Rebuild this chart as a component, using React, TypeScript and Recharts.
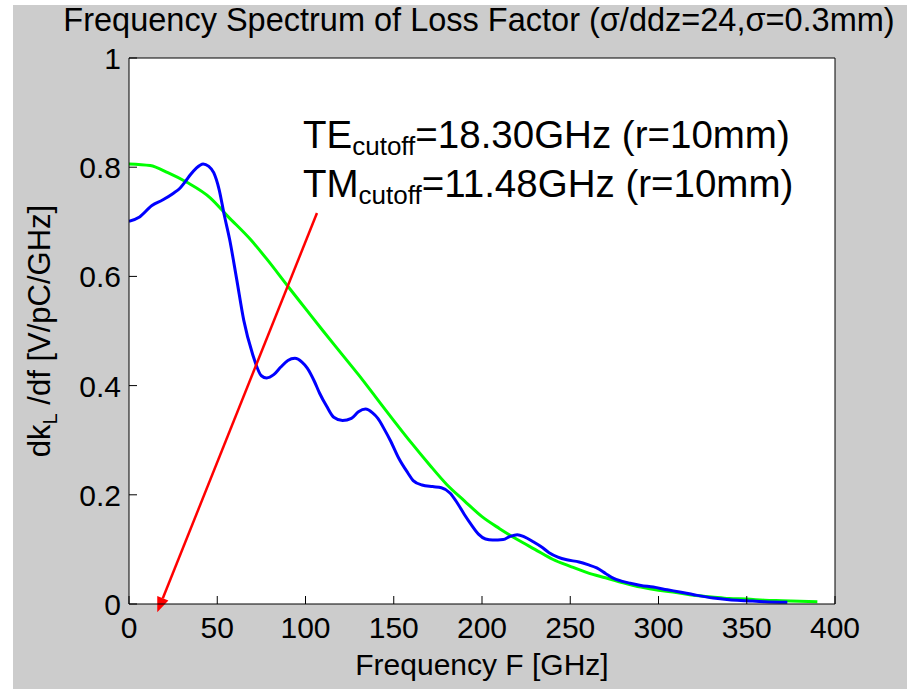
import { CartesianGrid, Line, LineChart, ReferenceLine, XAxis, YAxis } from 'recharts'

// blue: computed loss factor spectrum, green: gaussian bunch reference
const blueFreq = [
  0, 6, 13, 19, 25, 29, 32, 35, 38, 42, 45, 48, 51, 54, 57, 61, 65, 70, 75, 78, 82, 86, 90, 94, 98, 101, 105,
  108, 112, 116, 121, 126, 130, 134, 138, 141, 145, 148, 153, 158, 161, 166, 172, 177, 182, 186, 190, 194, 198,
  202, 206, 212, 216, 220, 224, 229, 234, 238, 243, 248, 255, 260, 265, 270, 274, 279, 284, 290, 297, 305, 312,
  320, 331, 340, 350, 360, 373,
]
const blueLoss = [
  0.701, 0.709, 0.73, 0.74, 0.752, 0.762, 0.774, 0.787, 0.798, 0.806, 0.802, 0.79, 0.76, 0.712, 0.668, 0.595, 0.52,
  0.458, 0.418, 0.414, 0.42, 0.434, 0.446, 0.45, 0.443, 0.432, 0.408, 0.386, 0.362, 0.342, 0.336, 0.34, 0.352, 0.357,
  0.35, 0.34, 0.318, 0.3, 0.266, 0.24, 0.226, 0.218, 0.215, 0.213, 0.203, 0.185, 0.164, 0.145, 0.128, 0.119, 0.117,
  0.118, 0.124, 0.127, 0.123, 0.114, 0.104, 0.094, 0.086, 0.081, 0.077, 0.072, 0.066, 0.056, 0.048, 0.042, 0.038,
  0.034, 0.031, 0.026, 0.022, 0.017, 0.011, 0.008, 0.006, 0.004, 0.003,
]
const greenFreq = [
  0, 12, 22, 33, 46, 56, 69, 78, 90, 100, 110, 120, 130, 140, 150, 160, 170, 180, 190, 200, 210, 220, 230, 240,
  250, 260, 270, 280, 290, 300, 310, 320, 330, 340, 350, 360, 370, 380, 390,
]
const greenLoss = [
  0.806, 0.803, 0.79, 0.772, 0.744, 0.71, 0.667, 0.632, 0.582, 0.541, 0.5, 0.46, 0.42, 0.378, 0.336, 0.295,
  0.256, 0.219, 0.189, 0.16, 0.138, 0.118, 0.1, 0.082, 0.069, 0.057, 0.048, 0.039, 0.031, 0.025, 0.021, 0.016,
  0.013, 0.01, 0.009, 0.007, 0.006, 0.005, 0.004,
]

const xTicks = [0, 50, 100, 150, 200, 250, 300, 350, 400]
const yTicks = [0, 0.2, 0.4, 0.6, 0.8, 1]

// red arrow: from the annotation down to the cutoff frequency
const arrowFrom = { x: 106.5, y: 0.716 }
const arrowTo = { x: 16, y: -0.015 }

const blueData = blueFreq.map((f, i) => ({ f, v: blueLoss[i] }))
const greenData = greenFreq.map((f, i) => ({ f, v: greenLoss[i] }))

const FONT = '"Liberation Sans", Arial, sans-serif'
const TICK = 8

function BottomTick({ x, y, payload }: any) {
  return (
    <g>
      <line x1={x} y1={y} x2={x} y2={y - TICK} stroke="#000" />
      <text x={x} y={y + 34} textAnchor="middle" fontSize={30} fontFamily={FONT} fill="#000">
        {payload.value}
      </text>
    </g>
  )
}

function TopTick({ x, y }: any) {
  return <line x1={x} y1={y} x2={x} y2={y + TICK} stroke="#000" />
}

function LeftTick({ x, y, payload }: any) {
  return (
    <g>
      <line x1={x} y1={y} x2={x + TICK} y2={y} stroke="#000" />
      <text x={x - 8} y={y} dy={11} textAnchor="end" fontSize={30} fontFamily={FONT} fill="#000">
        {payload.value}
      </text>
    </g>
  )
}

function RightTick({ x, y }: any) {
  return <line x1={x} y1={y} x2={x - TICK} y2={y} stroke="#000" />
}

function Arrow(props: any) {
  const { x1, y1, x2, y2 } = props
  const dx = x2 - x1
  const dy = y2 - y1
  const len = Math.sqrt(dx * dx + dy * dy)
  const ux = dx / len
  const uy = dy / len
  const hl = 15
  const hw = 6
  const bx = x2 - ux * hl
  const by = y2 - uy * hl
  return (
    <g>
      <line x1={x1} y1={y1} x2={bx} y2={by} stroke="#ff0000" strokeWidth={2.5} />
      <polygon
        points={`${x2},${y2} ${bx - uy * hw},${by + ux * hw} ${bx + uy * hw},${by - ux * hw}`}
        fill="#ff0000"
      />
    </g>
  )
}

export default function App() {
  return (
    <div style={{ position: 'absolute', left: 0, top: 0, width: 907, height: 689, background: '#fff' }}>
      <div style={{ position: 'absolute', left: 13, top: 5, width: 894, height: 684, background: '#cccccc' }} />
      <div style={{ position: 'absolute', left: 0, top: 0 }}>
        <LineChart width={907} height={689} margin={{ top: 57, right: 71, bottom: 45, left: 69 }}>
          <CartesianGrid horizontal={false} vertical={false} fill="#ffffff" />
          <XAxis
            type="number"
            dataKey="f"
            domain={[0, 400]}
            ticks={xTicks}
            interval={0}
            height={40}
            tickSize={0}
            tickMargin={0}
            tickLine={false}
            tick={<BottomTick />}
            axisLine={{ stroke: '#000' }}
            allowDataOverflow
          />
          <XAxis
            xAxisId="top"
            orientation="top"
            type="number"
            dataKey="f"
            domain={[0, 400]}
            ticks={xTicks}
            interval={0}
            height={1}
            tickSize={0}
            tickMargin={0}
            tickLine={false}
            tick={<TopTick />}
            axisLine={{ stroke: '#000' }}
          />
          <YAxis
            type="number"
            domain={[0, 1]}
            ticks={yTicks}
            interval={0}
            width={60}
            tickSize={0}
            tickMargin={0}
            tickLine={false}
            tick={<LeftTick />}
            axisLine={{ stroke: '#000' }}
            allowDataOverflow
          />
          <YAxis
            yAxisId="right"
            orientation="right"
            type="number"
            domain={[0, 1]}
            ticks={yTicks}
            interval={0}
            width={1}
            tickSize={0}
            tickMargin={0}
            tickLine={false}
            tick={<RightTick />}
            axisLine={{ stroke: '#000' }}
          />
          <Line
            data={greenData}
            dataKey="v"
            type="monotone"
            stroke="#00ff00"
            strokeWidth={3}
            dot={false}
            isAnimationActive={false}
          />
          <Line
            data={blueData}
            dataKey="v"
            type="monotone"
            stroke="#0000ff"
            strokeWidth={3}
            dot={false}
            isAnimationActive={false}
          />
          <ReferenceLine
            segment={[arrowFrom, arrowTo]}
            ifOverflow="visible"
            shape={<Arrow />}
          />
        </LineChart>
      </div>
      <svg
        width={907}
        height={689}
        style={{ position: 'absolute', left: 0, top: 0, pointerEvents: 'none' }}
        fontFamily={FONT}
      >
        <text x={479} y={31} textAnchor="middle" fontSize={32.5} fill="#000">
          Frequency Spectrum of Loss Factor (σ/ddz=24,σ=0.3mm)
        </text>
        <text x={482} y={675} textAnchor="middle" fontSize={30} fill="#000">
          Frequency F [GHz]
        </text>
        <text transform="translate(50,331) rotate(-90)" textAnchor="middle" fontSize={31} fill="#000">
          dk
          <tspan fontSize={20} dy={7}>
            L
          </tspan>
          <tspan dy={-7}> /df [V/pC/GHz]</tspan>
        </text>
        <text x={303} y={148} fontSize={38.5} fill="#000">
          TE
          <tspan fontSize={26} dy={7}>
            cutoff
          </tspan>
          <tspan dy={-7}>=18.30GHz (r=10mm)</tspan>
        </text>
        <text x={303} y={197} fontSize={38.5} fill="#000">
          TM
          <tspan fontSize={26} dy={7}>
            cutoff
          </tspan>
          <tspan dy={-7}>=11.48GHz (r=10mm)</tspan>
        </text>
      </svg>
    </div>
  )
}
